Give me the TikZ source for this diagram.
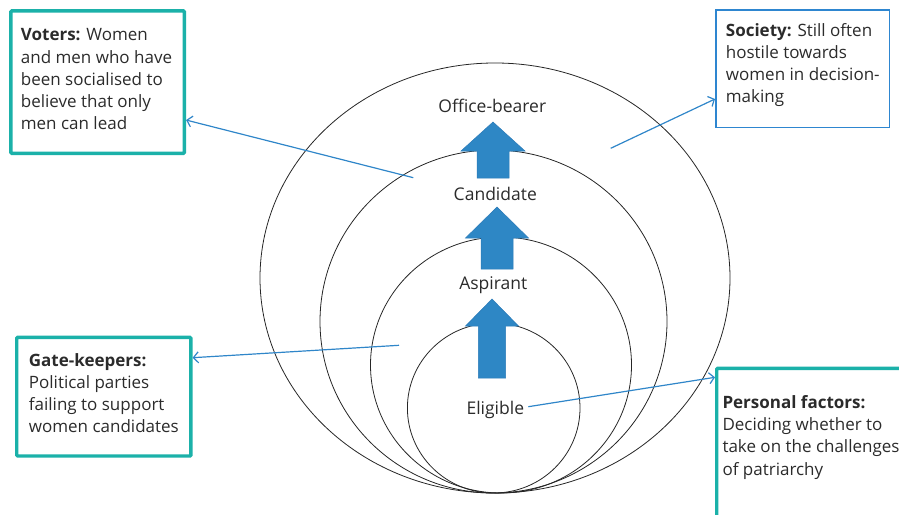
\documentclass[tikz,border=0pt]{standalone}
\usepackage{fontspec}
\setmainfont{Open Sans}
\usetikzlibrary{arrows.meta,calc}
\definecolor{ink}{HTML}{2B2B2B}
\definecolor{boxteal}{HTML}{1BB1A9}
\definecolor{boxblue}{HTML}{2E86D0}
\definecolor{linkblue}{HTML}{2F86C9}
\definecolor{arrowblue}{HTML}{2E87C5}
\definecolor{arrowedge}{HTML}{2A7AB8}
\begin{document}
\begin{tikzpicture}[x=1pt,y=-1pt,
  ring/.style={draw=black!85, line width=0.8pt},
  stage/.style={font=\fontsize{17.5}{20}\selectfont, text=ink, inner sep=0pt, anchor=base},
  note/.style={align=left, anchor=base west, font=\fontsize{17}{22.3}\selectfont, text=ink, inner sep=0pt},
  tealbox/.style={draw=boxteal, line width=3.4pt, rounded corners=1pt, anchor=north west, inner sep=0pt},
  bluebox/.style={draw=boxblue, line width=1.5pt, anchor=north west, inner sep=0pt},
  link/.style={draw=linkblue, line width=1.2pt, -{Straight Barb[length=5pt,width=11pt]}},
  stepup/.style={fill=arrowblue, draw=arrowedge, line width=0.5pt}
]
\useasboundingbox (0,0) rectangle (899,514);
\clip (0,0) rectangle (899,514);

% nested circles, all touching at the bottom
\draw[ring] (495,278) ellipse [x radius=235pt, y radius=215pt];
\draw[ring] (493.5,321.5) ellipse [x radius=173.5pt, y radius=171.5pt];
\draw[ring] (501,365) ellipse [x radius=130.5pt, y radius=128pt];
\draw[ring] (493.7,408) ellipse [x radius=86.3pt, y radius=85pt];

% upward block arrows between stages
\draw[stepup] (477,178) -- (477,151) -- (461,151) -- (493,122) -- (525,151) -- (509,151) -- (509,178) -- cycle;
\draw[stepup] (481,269) -- (481,238) -- (465.5,238) -- (497,207) -- (528.5,238) -- (513,238) -- (513,269) -- cycle;
\draw[stepup] (478.3,378) -- (478.3,326) -- (465.5,326) -- (492,299) -- (518.5,326) -- (505.7,326) -- (505.7,378) -- cycle;

% stage labels
\node[stage] (office) at (492.3,112) {Office-bearer};
\node[stage] (cand) at (495.3,200) {Candidate};
\node[stage] (asp) at (493.3,289.3) {Aspirant};
\node[stage] (elig) at (495.3,414) {Eligible};

% factor boxes
\node[tealbox, minimum width=173.5pt, minimum height=142.5pt] (voters) at (9.2,9.2) {};
\node[bluebox, minimum width=173.7pt, minimum height=117.7pt] (society) at (715,9) {};
\node[tealbox, minimum width=174.2pt, minimum height=118.6pt] (gate) at (15,335.7) {};
\node[tealbox, minimum width=200pt, minimum height=170pt] (personal) at (715,366.7) {};

% box texts, placed by the baseline of their last line
\node[note] (votersT) at (20.7,129.9) {\textbf{Voters:} Women\\and men who have\\been socialised to\\believe that only\\men can lead};
\node[note] (societyT) at (725.7,102.9) {\textbf{Society:} Still often\\hostile towards\\women in decision-\\making};
\node[note] (gateT) at (28.7,432.9) {\textbf{Gate-keepers:}\\Political parties\\failing to support\\women candidates};
\node[note] (personalT) at (722.3,475.2) {\textbf{Personal factors:}\\Deciding whether to\\take on the challenges\\of patriarchy};

% connectors from the circles to the boxes
\coordinate (vfrom) at (413.3,177.7);
\coordinate (sfrom) at (610.7,148.3);
\coordinate (gfrom) at (399,345.3);
\coordinate (efrom) at (528.3,406.7);
\draw[link] (vfrom) -- ([yshift=-37.9pt]voters.east);
\draw[link] (sfrom) -- ([yshift=-30.4pt]society.west);
\draw[link] (gfrom) -- ([yshift=39pt]gate.east);
\draw[link] (efrom) -- ([yshift=-10.6pt]personal.north west);
\end{tikzpicture}
\end{document}
